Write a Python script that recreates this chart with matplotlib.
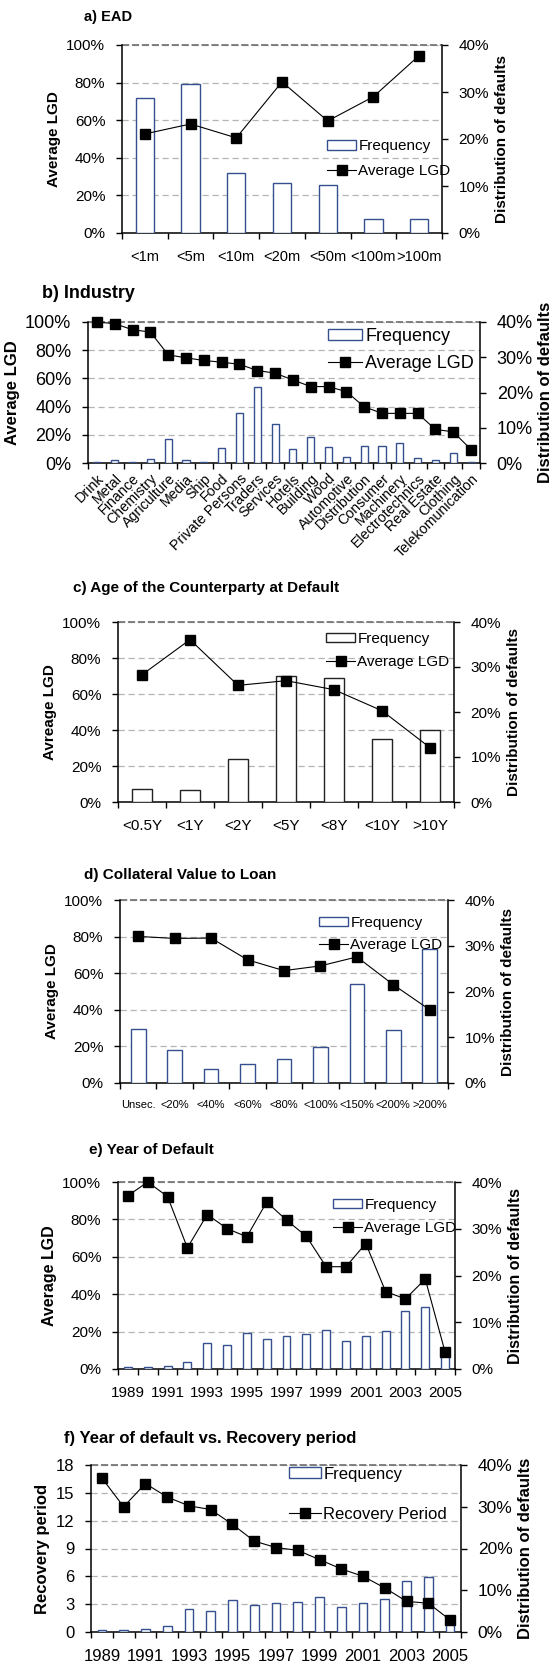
import matplotlib
matplotlib.use('Agg')
import matplotlib.pyplot as plt
from matplotlib.ticker import PercentFormatter, MultipleLocator, FixedLocator
from matplotlib.patches import Patch
from matplotlib.lines import Line2D

plt.rcParams['font.family'] = ['Liberation Sans', 'DejaVu Sans']

# a) EAD
ead_cats = ['<1m', '<5m', '<10m', '<20m', '<50m', '<100m', '>100m']
ead_freq = [28.8, 31.7, 12.8, 10.7, 10.2, 3.0, 3.0]
ead_lgd = [52.7, 58.0, 50.6, 80.4, 59.6, 72.5, 94.4]

# b) Industry
ind_cats = ['Drink', 'Metal', 'Finance', 'Chemistry', 'Agriculture', 'Media', 'Ship',
            'Food', 'Private Persons', 'Traders', 'Services', 'Hotels', 'Building',
            'Wood', 'Automotive', 'Distribution', 'Consumer', 'Machinery',
            'Electrotechnics', 'Real Estate', 'Clothing', 'Telekomunication']
ind_freq = [0.3, 0.9, 0.4, 1.2, 6.7, 0.9, 0.4, 4.3, 14.1, 21.5, 11.0, 3.9, 7.3,
            4.4, 1.8, 4.8, 4.8, 5.8, 1.3, 0.9, 2.9, 0.4]
ind_lgd = [100.0, 98.8, 94.5, 92.9, 76.7, 74.6, 72.7, 71.5, 70.0, 65.6, 63.7, 58.9,
           54.2, 54.2, 50.6, 39.9, 35.2, 35.2, 35.2, 23.8, 22.1, 9.5]

# c) Age of counterparty
age_cats = ['<0.5Y', '<1Y', '<2Y', '<5Y', '<8Y', '<10Y', '>10Y']
age_freq = [3.0, 2.6, 9.6, 28.1, 27.6, 13.9, 15.9]
age_lgd = [70.7, 90.2, 64.8, 67.4, 62.4, 50.7, 30.2]

# d) Collateral value to loan
col_cats = ['Unsec.', '<20%', '<40%', '<60%', '<80%', '<100%', '<150%', '<200%', '>200%']
col_freq = [11.8, 7.2, 3.1, 4.2, 5.3, 7.8, 21.7, 11.5, 29.2]
col_lgd = [80.1, 79.0, 79.2, 67.3, 61.4, 64.0, 68.9, 53.7, 40.0]

# e) Year of default
years = ['1989', '1990', '1991', '1992', '1993', '1994', '1995', '1996', '1997',
         '1998', '1999', '2000', '2001', '2002', '2003', '2004', '2005']
year_freq = [0.36, 0.36, 0.64, 1.5, 5.5, 5.2, 7.7, 6.5, 7.0, 7.4, 8.3, 5.9, 7.0,
             8.1, 12.4, 13.2, 3.2]
year_lgd = [92.7, 100.0, 92.2, 64.8, 82.6, 75.1, 70.7, 89.3, 79.6, 71.0, 54.7, 54.7,
            67.1, 41.4, 37.5, 48.1, 9.1]

# f) Year of default vs recovery period
rec_freq = [0.4, 0.4, 0.6, 1.45, 5.5, 5.1, 7.7, 6.4, 6.9, 7.2, 8.3, 5.9, 6.9, 7.9,
            12.3, 13.1, 3.2]
rec_period = [16.6, 13.5, 16.0, 14.55, 13.6, 13.2, 11.6, 9.8, 9.1, 8.8, 7.8, 6.8,
              6.0, 4.75, 3.3, 3.1, 1.3]

W, H = 560, 1664
fig = plt.figure(figsize=(W / 100, H / 100), dpi=100)
NAVY = '#34508f'


def rect(l, r, t, b):
    return [l / W, 1 - b / H, (r - l) / W, (b - t) / H]


def panel(box, title, txy, tsize, cats, freq, line, line_label,
          ylabel, fs=10.5, lblfs=11, xfs=10, label_every=1, rot=0,
          edge=NAVY, leg_xy=(0, 0), leg_sp=0.7, ymax=100, ystep=20,
          pct=True, fsz=None):
    x = list(range(len(cats)))
    ax = fig.add_axes(rect(*box))
    ax2 = ax.twinx()
    ax3 = ax.twinx()
    ax.set_zorder(0)
    ax2.set_zorder(1)
    ax3.set_zorder(2)
    for a in (ax2, ax3):
        a.patch.set_visible(False)

    ax.set_ylim(0, ymax)
    ax3.set_ylim(0, ymax)
    ax2.set_ylim(0, 40)
    for a in (ax, ax2, ax3):
        a.set_xlim(-0.5, len(cats) - 0.5)

    # gridlines behind bars
    ax.yaxis.set_major_locator(MultipleLocator(ystep))
    ax.yaxis.grid(True, color='#b4b4b4', linestyle=(0, (5, 3)), linewidth=0.9)
    ax.axhline(ymax, color='#777777', linestyle=(0, (4, 1.5)), linewidth=1.3, clip_on=False)
    if pct:
        ax.yaxis.set_major_formatter(PercentFormatter(decimals=0))

    ax2.bar(x, freq, width=0.4, facecolor='white', edgecolor=edge, linewidth=1.0)
    ax2.yaxis.set_major_locator(MultipleLocator(10))
    ax2.yaxis.set_major_formatter(PercentFormatter(decimals=0))

    ax3.plot(x, line, color='black', linewidth=0.8, marker='s', markersize=6.5,
             markerfacecolor='black', markeredgecolor='black', clip_on=False)
    ax3.axis('off')

    for a in (ax, ax2, ax3):
        a.spines['top'].set_visible(False)
    ax.spines['right'].set_visible(False)
    ax2.spines['left'].set_visible(False)
    ax2.spines['bottom'].set_visible(False)
    ax2.spines['right'].set_linewidth(1.1)
    ax.spines['left'].set_linewidth(1.1)
    ax.spines['bottom'].set_linewidth(1.1)

    fsz = fsz or fs
    ax.tick_params(axis='y', direction='out', length=4, width=1, pad=8, labelsize=fs)
    ax2.tick_params(axis='y', direction='out', length=4, width=1, pad=8, labelsize=fsz)

    # category labels at centres, tick marks at boundaries
    ax.xaxis.set_major_locator(FixedLocator(x[::label_every]))
    if rot:
        ax.set_xticklabels(cats[::label_every], rotation=rot, ha='right',
                           rotation_mode='anchor', fontsize=xfs)
        ax.tick_params(axis='x', which='major', length=0, pad=6)
    else:
        ax.set_xticklabels(cats[::label_every], fontsize=xfs)
        ax.tick_params(axis='x', which='major', length=0, pad=12)
    ax.xaxis.set_minor_locator(FixedLocator([i - 0.5 for i in range(len(cats) + 1)]))
    ax.tick_params(axis='x', which='minor', direction='out', length=4, width=1)

    ax.set_ylabel(ylabel, fontsize=lblfs, fontweight='bold', labelpad=4)
    ax2.set_ylabel('Distribution of defaults', fontsize=lblfs, fontweight='bold',
                   labelpad=4)

    fig.text(txy[0] / W, 1 - txy[1] / H, title, fontsize=tsize, fontweight='bold',
             ha='left', va='center')

    handles = [Patch(facecolor='white', edgecolor=edge, linewidth=1.0),
               Line2D([], [], color='black', linewidth=0.8, marker='s',
                      markersize=6.5)]
    ax3.legend(handles, ['Frequency', line_label], loc='center left',
               bbox_to_anchor=(leg_xy[0] / W, 1 - leg_xy[1] / H),
               bbox_transform=fig.transFigure, frameon=False, fontsize=fs,
               handlelength=1.9, handleheight=0.6, handletextpad=0.15,
               labelspacing=leg_sp, borderpad=0, borderaxespad=0, numpoints=1)
    return ax


panel((122, 442, 45, 233), 'a) EAD', (84, 17), 10.5, ead_cats, ead_freq, ead_lgd,
      'Average LGD', 'Average LGD', fs=11, lblfs=11, xfs=10.5,
      leg_xy=(327, 158.5), leg_sp=0.7)

panel((88, 480, 322, 463), 'b) Industry', (42, 293), 13, ind_cats, ind_freq, ind_lgd,
      'Average LGD', 'Average LGD', fs=13, lblfs=12, xfs=10.3, rot=45,
      leg_xy=(328, 350), leg_sp=0.55)

panel((118, 454, 622, 802), 'c) Age of the Counterparty at Default', (73, 588), 11,
      age_cats, age_freq, age_lgd, 'Average LGD', 'Avreage LGD', fs=11, lblfs=11,
      xfs=11, edge='#222222', leg_xy=(326, 650.5), leg_sp=0.6)

panel((120, 448, 900, 1083), 'd) Collateral Value to Loan', (84, 875), 11,
      col_cats, col_freq, col_lgd, 'Average LGD', 'Average LGD', fs=11, lblfs=11,
      xfs=8, leg_xy=(319, 934), leg_sp=0.55)

panel((118, 455, 1182, 1369), 'e) Year of Default', (89, 1150), 11,
      years, year_freq, year_lgd, 'Average LGD', 'Average LGD', fs=11, lblfs=11.5,
      xfs=11, label_every=2, leg_xy=(333, 1216.5), leg_sp=0.6)

panel((91, 461, 1465, 1632), 'f) Year of default vs. Recovery period', (64, 1438), 12,
      years, rec_freq, rec_period, 'Recovery Period', 'Recovery period', fs=12,
      lblfs=12, xfs=12, label_every=2, leg_xy=(289, 1494), leg_sp=1.5,
      ymax=18, ystep=3, pct=False, fsz=12.5)

fig.savefig('out.png', dpi=100)
